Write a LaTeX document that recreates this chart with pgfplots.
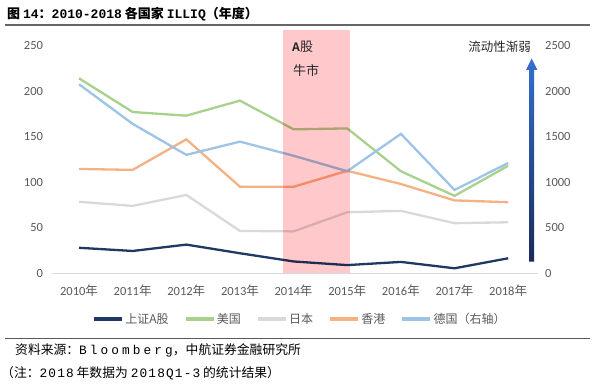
\documentclass[border=0pt]{standalone}
\usepackage{pgfplots}
\pgfplotsset{compat=1.18}
\usepackage{fontspec}
\setmainfont{Carlito}
\newfontfamily\cjk{Noto Sans CJK SC}
\newfontfamily\mono{Liberation Mono}
\newfontfamily\monoA[LetterSpace=24]{Liberation Mono}
\newfontfamily\monoB[LetterSpace=9]{Liberation Mono}
\definecolor{cDark}{HTML}{1F3864}
\definecolor{cGreen}{HTML}{A9D18E}
\definecolor{cGray}{HTML}{D9D9D9}
\definecolor{cOrange}{HTML}{F4B183}
\definecolor{cBlue}{HTML}{9DC3E6}
\definecolor{cPink}{HTML}{FFC9CC}
\definecolor{cLabel}{HTML}{595959}
\definecolor{cText}{HTML}{262626}
\definecolor{cArrowBot}{HTML}{1A2A5A}
\definecolor{cArrowTop}{HTML}{3470D0}
\begin{document}
\begin{tikzpicture}[x=1pt,y=1pt]
\path[use as bounding box] (0,0) rectangle (593,383);
% title
\node[anchor=west, inner sep=0pt, font=\fontsize{13}{15}\selectfont\bfseries, text=black] at (7,369) {{\cjk 图} {\mono 14}{\cjk ：}{\mono 2010-2018} {\cjk 各国家} {\mono ILLIQ}{\cjk （年度）}};
\draw[color=black!60, line width=1.2pt] (5,358) -- (590,358);
\begin{axis}[
  at={(52.2pt,109.7pt)}, anchor=south west, scale only axis,
  width=482.8pt, height=227.8pt,
  xmin=2009.5, xmax=2018.5, ymin=0, ymax=250,
  axis line style={draw=none}, major tick length=0pt,
  xtick={2010,...,2018},
  xticklabels={2010{\cjk 年},2011{\cjk 年},2012{\cjk 年},2013{\cjk 年},2014{\cjk 年},2015{\cjk 年},2016{\cjk 年},2017{\cjk 年},2018{\cjk 年}},
  ytick={0,50,...,250},
  ticklabel style={font=\fontsize{12.5}{14}\selectfont, text=cLabel, inner sep=0pt},
  xticklabel style={yshift=-11pt},
  yticklabel style={xshift=-9pt},
  /pgf/number format/assume math mode=true,
  /pgf/number format/1000 sep={},
  ticklabel pos=left,
  clip=false,
  legend columns=5,
  legend style={at={(0.513,-0.2006)}, anchor=center, draw=none, fill=none,
    font=\cjk\fontsize{12}{14}\selectfont, text=cLabel,
    /tikz/every even column/.append style={column sep=14pt},
    nodes={inner sep=1.5pt}},
  legend image code/.code={\draw[#1, line width=3.2pt] (0pt,0pt) -- (28pt,0pt);},
]
\draw[cGray, line width=0.9pt] (axis cs:2009.5,0) -- (axis cs:2018.56,0);
\addplot[cDark, line width=2.3pt] coordinates {(2010,28) (2011,24.5) (2012,31.5) (2013,22) (2014,13) (2015,9) (2016,12.5) (2017,5.5) (2018,16.5)};
\addlegendentry{上证A股}
\addplot[cGreen, line width=2.3pt] coordinates {(2010,214) (2011,177) (2012,173) (2013,189.5) (2014,158) (2015,159) (2016,112) (2017,85) (2018,118)};
\addlegendentry{美国}
\addplot[cGray, line width=2.3pt] coordinates {(2010,78.5) (2011,74) (2012,86) (2013,46.5) (2014,46) (2015,67) (2016,68.5) (2017,55) (2018,56)};
\addlegendentry{日本}
\addplot[cOrange, line width=2.3pt] coordinates {(2010,114.5) (2011,113.5) (2012,147) (2013,95) (2014,95) (2015,112.5) (2016,98) (2017,80) (2018,78)};
\addlegendentry{香港}
\addlegendimage{cBlue, line width=2.3pt}
\addlegendentry{德国（右轴）}
\end{axis}
\begin{axis}[
  at={(52.2pt,109.7pt)}, anchor=south west, scale only axis,
  width=482.8pt, height=227.8pt,
  xmin=2009.5, xmax=2018.5, ymin=0, ymax=2500,
  axis line style={draw=none}, major tick length=0pt,
  xtick=\empty,
  ytick={0,500,...,2500},
  ticklabel style={font=\fontsize{12.5}{14}\selectfont, text=cLabel, inner sep=0pt},
  yticklabel style={xshift=10pt},
  /pgf/number format/assume math mode=true,
  /pgf/number format/1000 sep={},
  ticklabel pos=right,
  clip=false,
]
\addplot[cBlue, line width=2.3pt] coordinates {(2010,2075) (2011,1640) (2012,1300) (2013,1445) (2014,1290) (2015,1120) (2016,1530) (2017,915) (2018,1210)};
\fill[cPink, blend mode=multiply] (axis cs:2013.8,0) rectangle (axis cs:2015.06,2670);
\end{axis}
% annotations
\node[anchor=west, inner sep=0pt, font=\fontsize{13}{15}\selectfont, text=cText] at (292,336) {{\mono\bfseries A}{\cjk 股}};
\node[anchor=west, inner sep=0pt, font=\cjk\fontsize{13}{15}\selectfont, text=cText] at (293,312) {牛市};
\node[anchor=east, inner sep=0pt, font=\cjk\fontsize{12.5}{15}\selectfont, text=cText] at (531,336) {流动性渐弱};
\shade[bottom color=cArrowBot, top color=cArrowTop]
  (529.2,121.3) -- (529.2,313) -- (526,313) -- (531.7,324.5) -- (537.4,313) -- (534.2,313) -- (534.2,121.3) -- cycle;
% footer
\draw[color=black!65, line width=1pt] (5,45) -- (590,45);
\node[anchor=west, inner sep=0pt, font=\fontsize{12.8}{15}\selectfont, text=black] at (15,32.3) {{\cjk 资料来源：}{\monoA Bloomberg}{\cjk ，中航证券金融研究所}};
\node[anchor=west, inner sep=0pt, font=\fontsize{12.8}{15}\selectfont, text=black] at (1,10) {{\cjk （注：}{\monoB 2018} {\cjk 年数据为} {\monoB 2018Q1-3} {\cjk 的统计结果）}};
\end{tikzpicture}
\end{document}
